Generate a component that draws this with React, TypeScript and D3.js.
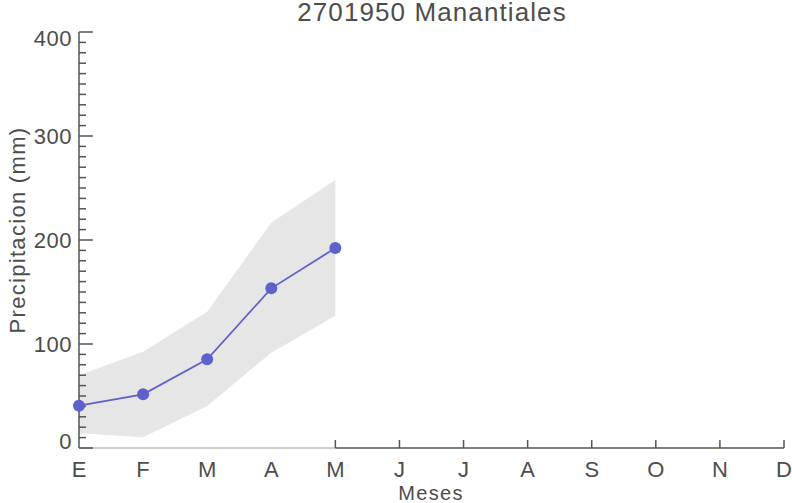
import React from "react";
import * as d3 from "d3";

const months = ["E", "F", "M", "A", "M", "J", "J", "A", "S", "O", "N", "D"];
const meanValues = [40.7, 51.6, 85.3, 153.5, 192.3];
const upperValues = [70, 92.6, 131, 216.7, 257.7];
const lowerValues = [14.1, 10.3, 40.4, 91.7, 127.2];
const yTicks = [0, 100, 200, 300, 400];

const W = 792;
const H = 503;
const left = 79;
const right = 784;
const top = 32;
const bottom = 448;
const textColor = "#4d4d4d";
const font = "Liberation Sans, Arial, Helvetica, sans-serif";

export default function App() {
  const x = d3.scaleLinear().domain([0, 11]).range([left, right]);
  const y = d3.scaleLinear().domain([0, 400]).range([bottom, top]);
  const idx = meanValues.map((_, i) => i);

  const area = d3
    .area<number>()
    .x((i) => x(i))
    .y0((i) => y(lowerValues[i]))
    .y1((i) => y(upperValues[i]));
  const line = d3
    .line<number>()
    .x((i) => x(i))
    .y((i) => y(meanValues[i]));

  const minor = d3.range(0, 401, 10).filter((v) => v % 100 !== 0);
  const lastData = meanValues.length - 1;

  const labelY = (v: number) => {
    const base = y(v) + 8;
    return Math.min(Math.max(base, top + 14), bottom + 1);
  };

  return (
    <svg
      width={W}
      height={H}
      style={{ position: "absolute", left: 0, top: 0, background: "#fff" }}
      fontFamily={font}
    >
      <text x={432} y={21} textAnchor="middle" fontSize={26} letterSpacing={1.1} fill={textColor}>
        2701950 Manantiales
      </text>
      <path d={area(idx) || ""} fill="#e6e6e6" />
      {/* x axis */}
      <line x1={left} x2={x(lastData)} y1={bottom} y2={bottom} stroke="#a0a0a0" strokeWidth={1.2} />
      <line x1={x(lastData)} x2={right} y1={bottom} y2={bottom} stroke="#555" strokeWidth={1.5} />
      {months.map((m, i) => (
        <g key={i}>
          {i >= lastData && (
            <line x1={x(i)} x2={x(i)} y1={bottom} y2={bottom - 8} stroke="#555" strokeWidth={1.5} />
          )}
          <text x={x(i)} y={477} textAnchor="middle" fontSize={22} fill={textColor}>
            {m}
          </text>
        </g>
      ))}
      <text x={431} y={500} textAnchor="middle" fontSize={20} letterSpacing={1.3} fill={textColor}>
        Meses
      </text>
      {/* y axis */}
      <line x1={left} x2={left} y1={top} y2={bottom} stroke="#555" strokeWidth={1.5} />
      {minor.map((v) => (
        <line key={v} x1={left} x2={left + 7} y1={y(v)} y2={y(v)} stroke="#555" strokeWidth={1.5} />
      ))}
      {yTicks.map((v) => (
        <g key={v}>
          <line x1={left} x2={left + 14} y1={y(v)} y2={y(v)} stroke="#555" strokeWidth={1.5} />
          <text x={left - 7} y={labelY(v)} textAnchor="end" fontSize={22} letterSpacing={0.5} fill={textColor}>
            {v}
          </text>
        </g>
      ))}
      <text
        transform={`translate(25,${230}) rotate(-90)`}
        textAnchor="middle"
        fontSize={22}
        letterSpacing={1.3}
        fill={textColor}
      >
        Precipitacion (mm)
      </text>
      <path d={line(idx) || ""} fill="none" stroke="#6060cc" strokeWidth={1.8} />
      {idx.map((i) => (
        <circle key={i} cx={x(i)} cy={y(meanValues[i])} r={6} fill="#6060cc" />
      ))}
    </svg>
  );
}
